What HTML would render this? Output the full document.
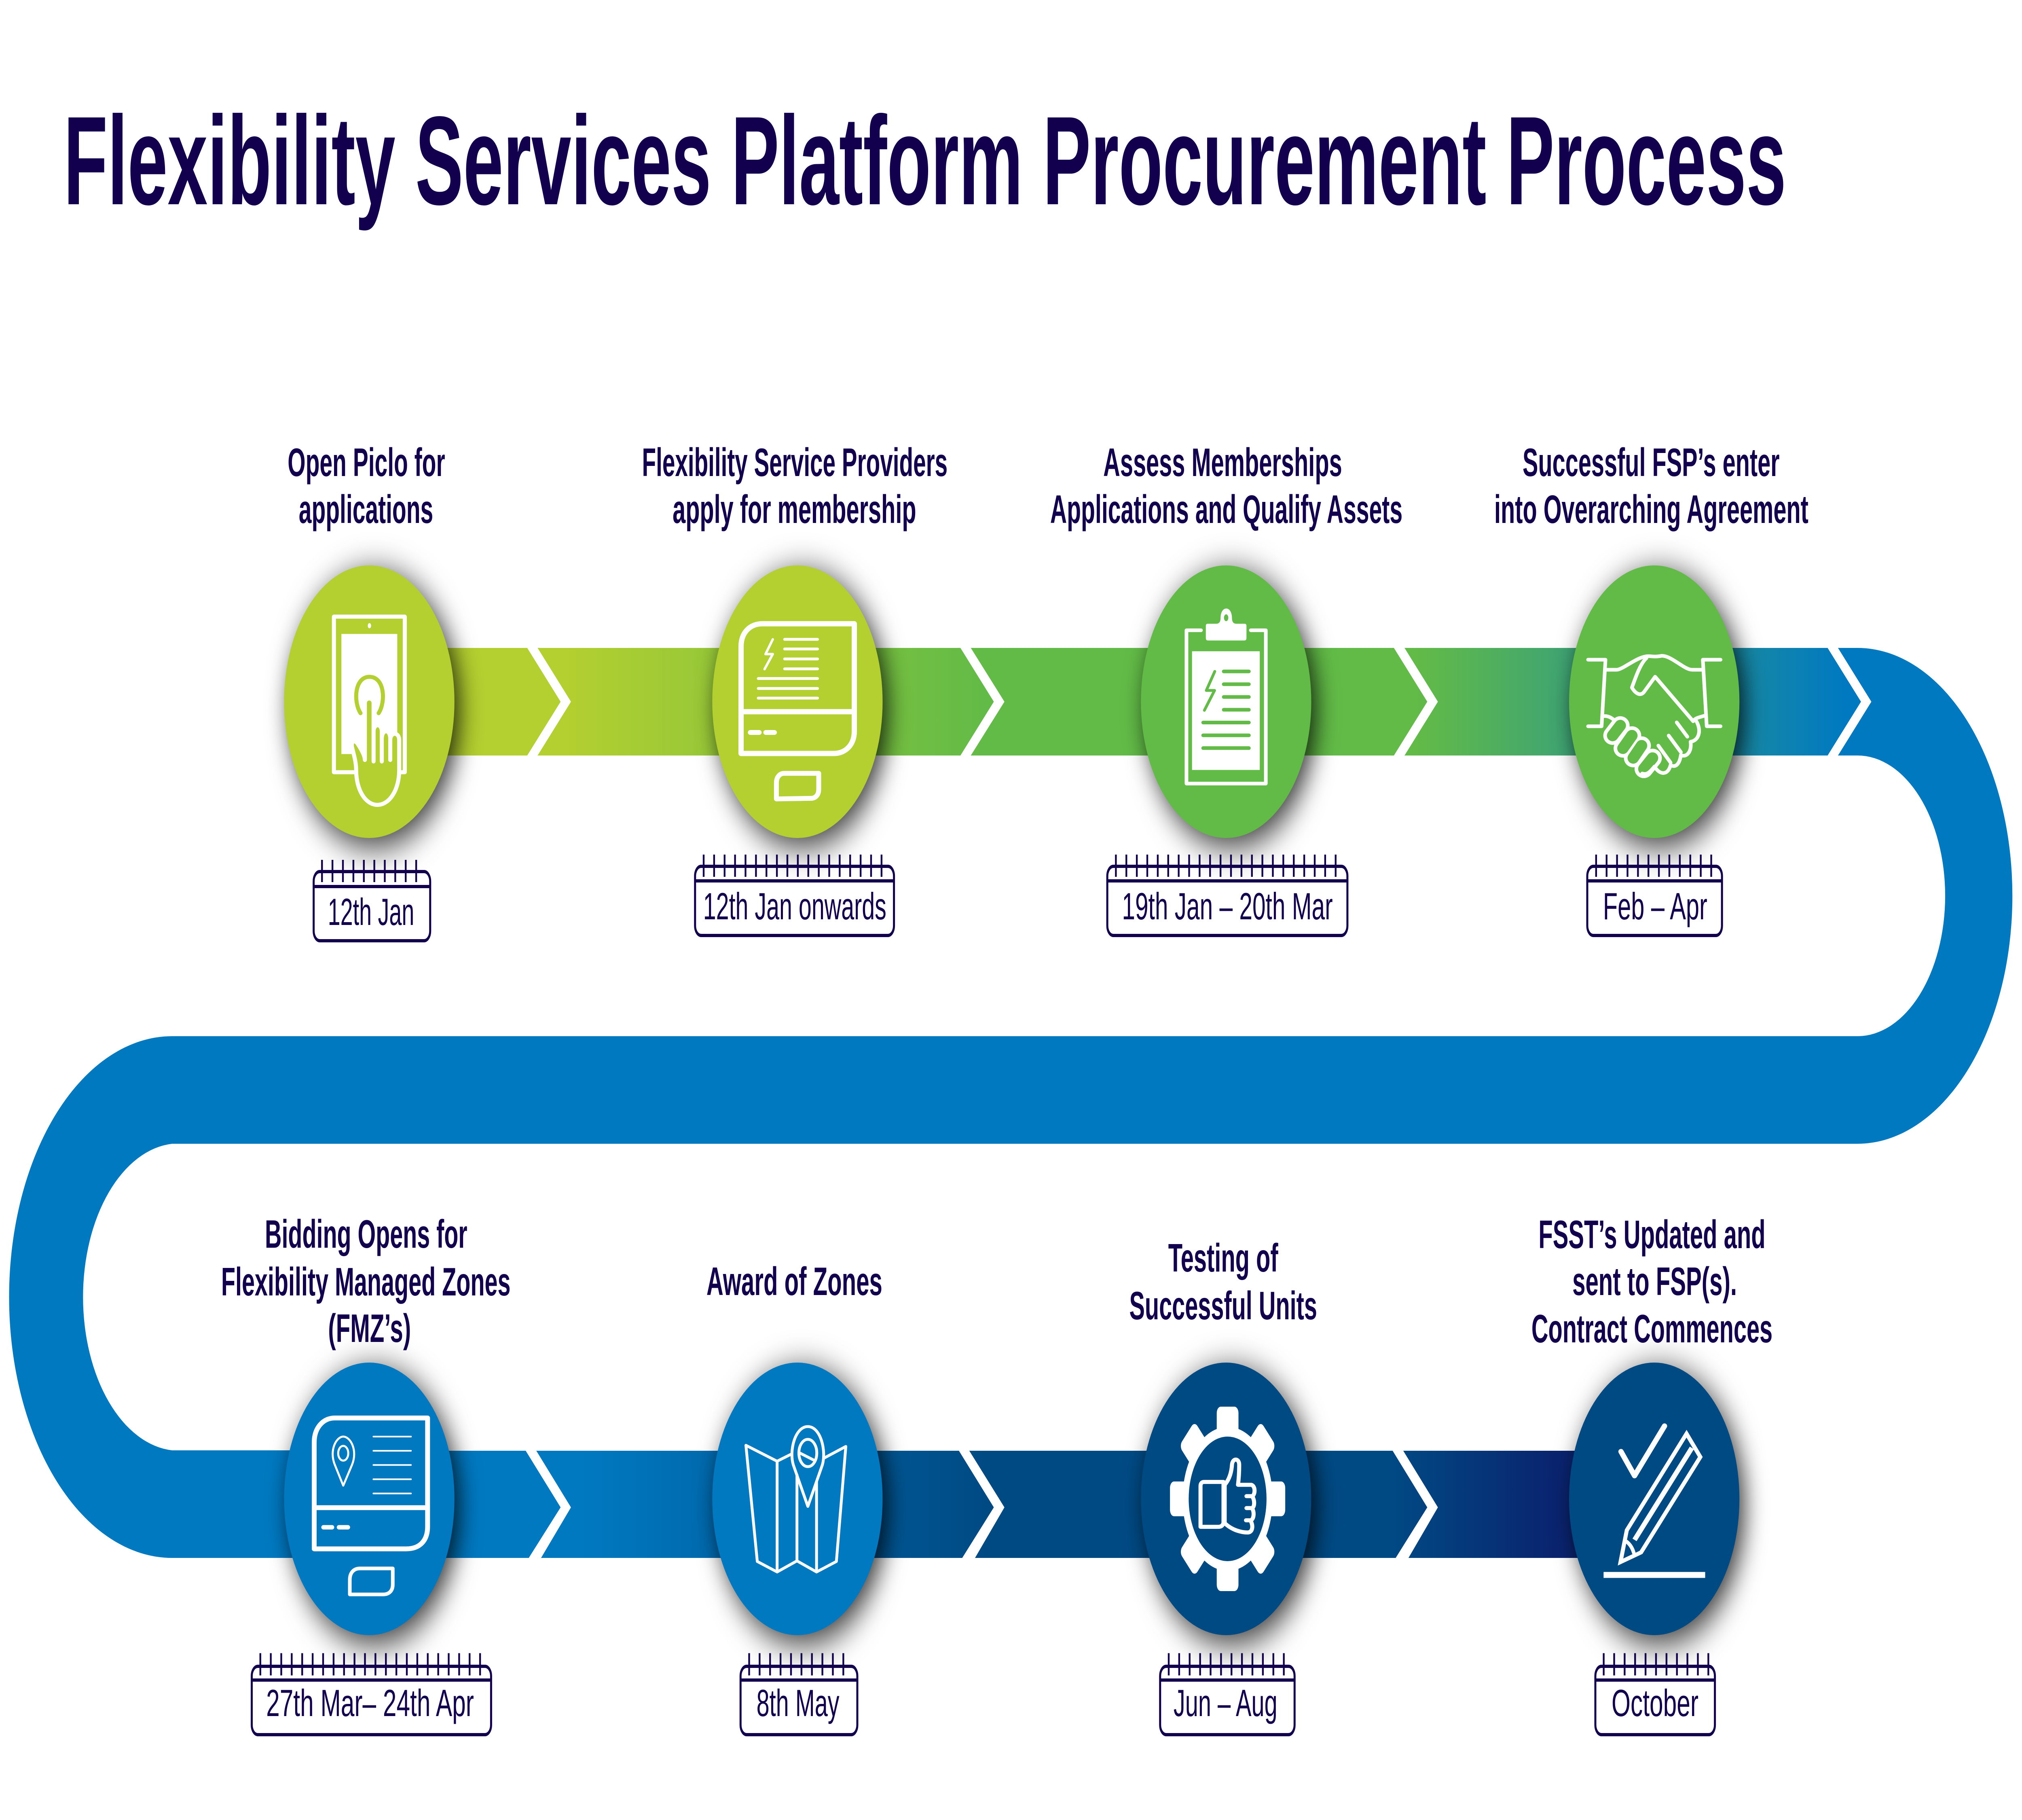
<!DOCTYPE html>
<html lang="en">
<head>
<meta charset="utf-8">
<title>Flexibility Services Platform Procurement Process</title>
<style>
html,body{margin:0;padding:0;background:#fff;width:100%;height:100%;overflow:hidden}
svg{display:block;width:100vw;height:100vh}
text{font-family:"Liberation Sans",sans-serif;fill:#12004f}
.t{font-weight:700;font-size:98px}
.d{font-size:94px}
.c{filter:drop-shadow(20px 20px 44px rgba(0,0,0,.8))}
.i{fill:none;stroke:#fff;stroke-linecap:round;stroke-linejoin:round}
.i *{vector-effect:non-scaling-stroke}
.cal{fill:none;stroke:#12004f;stroke-width:8}
.tk{stroke:#12004f;stroke-width:55;stroke-dasharray:7 34.4}
</style>
</head>
<body>
<svg xmlns="http://www.w3.org/2000/svg" viewBox="0 0 8000 4500" preserveAspectRatio="none">
<defs>
<linearGradient id="g1" gradientUnits="userSpaceOnUse" x1="1461" y1="0" x2="7349" y2="0">
<stop offset="0" stop-color="#b3cf30"/>
<stop offset="0.1333" stop-color="#b3cf30"/>
<stop offset="0.4143" stop-color="#62bb47"/>
<stop offset="0.7030" stop-color="#62bb47"/>
<stop offset="0.9915" stop-color="#0079c1"/>
<stop offset="1" stop-color="#0079c1"/>
</linearGradient>
<linearGradient id="g2" gradientUnits="userSpaceOnUse" x1="1461" y1="0" x2="6545" y2="0">
<stop offset="0" stop-color="#0079c1"/>
<stop offset="0.165" stop-color="#0079c1"/>
<stop offset="0.48" stop-color="#004a84"/>
<stop offset="0.794" stop-color="#004a84"/>
<stop offset="0.922" stop-color="#0a2470"/>
<stop offset="1" stop-color="#0a2470"/>
</linearGradient>
</defs>

<!-- title -->
<text x="252" y="505" font-size="312" font-weight="700" textLength="6815" lengthAdjust="spacingAndGlyphs">Flexibility Services Platform Procurement Process</text>

<!-- ribbon -->
<rect x="1461" y="1602" width="5890" height="266" fill="url(#g1)"/>
<path fill="#0079c1" d="M7349,1602 A613,613 0 0 1 7349,2828 L681,2828 A380,380 0 0 0 681,3586 L1461,3586 L1461,3852 L681,3852 A645,645 0 0 1 681,2562 L7349,2562 A347,347 0 0 0 7349,1868 Z"/>
<rect x="1461" y="3587" width="5084" height="265" fill="url(#g2)"/>

<!-- chevrons -->
<g fill="#fff">
<polygon points="2081,1597 2122,1597 2259,1735 2122,1873 2081,1873 2218,1735"/>
<polygon points="3795,1597 3836,1597 3974,1735 3836,1873 3795,1873 3932,1735"/>
<polygon points="5510,1597 5552,1597 5689,1735 5552,1873 5510,1873 5647,1735"/>
<polygon points="7226,1597 7267,1597 7404,1735 7267,1873 7226,1873 7363,1735"/>
<polygon points="2075,3582 2117,3582 2259,3727 2136,3857 2087,3857 2218,3727"/>
<polygon points="3789,3582 3830,3582 3974,3727 3853,3857 3802,3857 3932,3727"/>
<polygon points="5505,3582 5547,3582 5689,3727 5568,3857 5517,3857 5647,3727"/>
</g>

<!-- circles -->
<g class="c"><circle cx="1461" cy="1735" r="337" fill="#b3cf30"/></g>
<g class="c"><circle cx="3155" cy="1735" r="337" fill="#b3cf30"/></g>
<g class="c"><circle cx="4851" cy="1735" r="337" fill="#62bb47"/></g>
<g class="c"><circle cx="6545" cy="1735" r="337" fill="#62bb47"/></g>
<g class="c"><circle cx="1461" cy="3706" r="337" fill="#0079c1"/></g>
<g class="c"><circle cx="3155" cy="3706" r="337" fill="#0079c1"/></g>
<g class="c"><circle cx="4851" cy="3706" r="337" fill="#004a84"/></g>
<g class="c"><circle cx="6545" cy="3706" r="337" fill="#004a84"/></g>

<!-- icon 1 tablet + hand -->
<g class="i" transform="translate(900,1300) scale(.957,.702)" stroke-width="10">
<rect x="440" y="320" width="293" height="548"/>
<ellipse cx="587" cy="352" rx="7" ry="9" fill="#fff" stroke="none"/>
<rect x="471" y="381" width="231" height="423" fill="#fff" stroke="none"/>
<path d="M550,660 C520,620 525,532 587,532 C650,532 655,620 625,660" stroke="#b3cf30"/>
<path fill="#b3cf30" d="M532,860 C532,830 520,800 515,780 C510,760 525,750 540,770 C555,790 568,810 568,825 L568,625 C568,603 604,603 604,625 L604,830 L604,725 C604,695 638,695 638,725 L638,830 L638,750 C638,715 673,715 673,750 L673,825 L673,755 C673,725 710,725 710,755 L710,860 C710,930 670,983 620,983 C570,983 532,930 532,860 Z"/>
</g>

<!-- icon 2 monitor -->
<g class="i" transform="translate(2600,1300) scale(.957,.702)">
<path stroke-width="13" d="M347,655 L347,425 C347,375 385,345 435,345 L815,345 L815,725 C815,770 780,802 730,802 L347,802 Z M347,655 L815,655"/>
<path stroke-width="7" d="M527,400 H663 M527,434 H663 M527,469 H663 M527,504 H663 M418,538 H663 M418,573 H663 M418,607 H663"/>
<path stroke-width="6" d="M478,400 L448,452 L478,452 L444,505"/>
<path stroke-width="12" d="M385,728 H422 M449,728 H485"/>
<path stroke-width="12" d="M493,962 L493,905 C493,885 507,872 525,872 L668,872 L668,928 C668,948 655,960 635,960 Z"/>
</g>

<!-- icon 3 clipboard -->
<g class="i" transform="translate(4300,1300) scale(.957,.702)">
<path stroke-width="9" d="M472,368 L412,368 L412,908 L740,908 L740,368 L678,368"/>
<path fill="#fff" stroke="none" d="M492,352 Q492,345 500,345 L535,345 Q553,345 553,325 C553,280 600,280 600,325 Q600,345 618,345 L652,345 Q660,345 660,352 L660,395 Q660,404 652,404 L500,404 Q492,404 492,395 Z"/>
<ellipse cx="576" cy="324" rx="9" ry="12" fill="#62bb47" stroke="none"/>
<rect x="435" y="442" width="280" height="418" fill="#fff" stroke="none"/>
<path stroke="#62bb47" stroke-width="9" d="M566,513 H670 M566,558 H670 M566,603 H670 M566,648 H670 M481,693 H670 M481,738 H670 M481,783 H670"/>
<path stroke="#62bb47" stroke-width="7" d="M529,513 L494,580 L528,580 L486,650"/>
</g>

<!-- icon 4 handshake -->
<g class="i" transform="translate(6000,1300) scale(1.2755,.957)" stroke-width="9">
<path d="M222,346 L276,346 L264,518 L222,518 M633,346 L578,346 L590,518 L633,518"/>
<path d="M278,372 L310,372 C330,372 370,340 405,337 C420,336 425,340 450,336 C480,335 520,372 545,372 L577,372"/>
<path d="M403,342 C385,355 370,390 358,418 C370,435 385,440 395,430 L430,390 L548,505 C555,495 570,495 585,490"/>
<path d="M268,492 C285,490 295,497 300,500"/>
<path stroke-width="46" d="M298,542 L322,516 M330,575 L358,542 M362,600 L388,568 M395,628 L422,600"/>
<path stroke="#62bb47" stroke-width="28" d="M298,542 L322,516 M330,575 L358,542 M362,600 L388,568 M395,628 L422,600"/>
<path d="M558,505 C575,530 565,555 540,558 C545,585 525,600 510,592 C505,620 490,625 478,618 C470,645 445,645 428,622 C415,635 405,645 390,640"/>
<path d="M497,508 L530,545 M472,542 L510,585 M440,568 L478,612"/>
</g>

<!-- icon 5 monitor + pin -->
<g class="i" transform="translate(0,2500) scale(1.531,1.212)">
<path stroke-width="12" d="M812,1013 L812,880 C812,850 835,830 865,830 L1105,830 L1105,1052 C1105,1080 1085,1097 1050,1097 L812,1097 Z M812,1013 L1105,1013"/>
<path stroke-width="4" d="M965,868 H1062 M965,897 H1062 M965,926 H1062 M965,955 H1062 M965,984 H1062"/>
<path stroke-width="5" d="M887,968 L865,925 C850,895 870,868 887,868 C905,868 925,895 910,925 Z"/>
<ellipse cx="887" cy="902" rx="13" ry="15" stroke-width="5"/>
<path stroke-width="11" d="M836,1053 H858 M876,1053 H899"/>
<path stroke-width="9" d="M904,1190 L904,1160 C904,1145 915,1137 930,1137 L1015,1137 L1015,1170 C1015,1183 1005,1190 990,1190 Z"/>
</g>

<!-- icon 6 map -->
<g class="i" transform="translate(2600,3250) scale(.957,.702)" stroke-width="7">
<path d="M552,493 L496,517 L367,461 L414,870 L496,907 L578,868 L659,907 L741,870 L780,465 L692,505"/>
<path d="M496,517 V907 M578,565 V868 M659,590 V907"/>
<path d="M623,676 L563,530 C545,480 570,395 623,395 C676,395 700,480 683,530 Z"/>
<ellipse cx="623" cy="488" rx="37" ry="48"/>
<path d="M590,488 L652,515"/>
</g>

<!-- icon 7 gear -->
<g>
<g fill="#fff">
<circle cx="4857" cy="3706" r="178"/>
<rect x="4814" y="3478" width="86" height="120" rx="16"/>
<rect x="4814" y="3478" width="86" height="120" rx="16" transform="rotate(45 4857 3706)"/>
<rect x="4814" y="3478" width="86" height="120" rx="16" transform="rotate(90 4857 3706)"/>
<rect x="4814" y="3478" width="86" height="120" rx="16" transform="rotate(135 4857 3706)"/>
<rect x="4814" y="3478" width="86" height="120" rx="16" transform="rotate(180 4857 3706)"/>
<rect x="4814" y="3478" width="86" height="120" rx="16" transform="rotate(225 4857 3706)"/>
<rect x="4814" y="3478" width="86" height="120" rx="16" transform="rotate(270 4857 3706)"/>
<rect x="4814" y="3478" width="86" height="120" rx="16" transform="rotate(315 4857 3706)"/>
</g>
<circle cx="4857" cy="3706" r="154" fill="#004a84"/>
</g>
<g class="i" transform="translate(4300,3250) scale(.957,.702)" stroke-width="10">
<path d="M470,748 L470,605 Q470,590 485,590 L565,590 L565,735 Q560,748 545,748 Z"/>
<path d="M570,600 C590,580 598,555 600,530 C602,505 630,505 630,530 C630,555 628,580 625,600 L680,600 C700,605 695,640 682,640 L660,640 M682,640 C695,650 695,680 682,682 L660,682 M682,682 C695,695 690,725 676,725 L658,725 M676,725 C690,745 685,768 665,768 C640,768 600,760 570,735 L570,600"/>
</g>

<!-- icon 8 pencil -->
<g class="i" transform="translate(6000,3250) scale(.957,.702)">
<path stroke-width="13" d="M432,483 L488,568 L612,393"/>
<rect x="360" y="907" width="420" height="21" fill="#fff" stroke="none"/>
<path stroke-width="10" stroke-linejoin="miter" d="M703,420 L760,502 L515,838 L430,872 L456,760 Z"/>
<path stroke-width="12" stroke-linecap="butt" d="M725,470 L488,794"/>
<path stroke-width="9" d="M455,800 C470,810 480,825 485,840"/>
</g>

<!-- labels -->
<text class="t" x="1138" y="1177" textLength="623" lengthAdjust="spacingAndGlyphs">Open Piclo for</text>
<text class="t" x="1182" y="1293" textLength="532" lengthAdjust="spacingAndGlyphs">applications</text>
<text class="t" x="2540" y="1177" textLength="1209" lengthAdjust="spacingAndGlyphs">Flexibility Service Providers</text>
<text class="t" x="2661" y="1293" textLength="964" lengthAdjust="spacingAndGlyphs">apply for membership</text>
<text class="t" x="4365" y="1177" textLength="945" lengthAdjust="spacingAndGlyphs">Assess Memberships</text>
<text class="t" x="4155" y="1293" textLength="1394" lengthAdjust="spacingAndGlyphs">Applications and Qualify Assets</text>
<text class="t" x="6024" y="1177" textLength="1017" lengthAdjust="spacingAndGlyphs">Successful FSP’s enter</text>
<text class="t" x="5912" y="1293" textLength="1243" lengthAdjust="spacingAndGlyphs">into Overarching Agreement</text>
<text class="t" x="1048" y="3085" textLength="801" lengthAdjust="spacingAndGlyphs">Bidding Opens for</text>
<text class="t" x="875" y="3203" textLength="1145" lengthAdjust="spacingAndGlyphs">Flexibility Managed Zones</text>
<text class="t" x="1298" y="3318" textLength="328" lengthAdjust="spacingAndGlyphs">(FMZ’s)</text>
<text class="t" x="2795" y="3202" textLength="696" lengthAdjust="spacingAndGlyphs">Award of Zones</text>
<text class="t" x="4622" y="3144" textLength="435" lengthAdjust="spacingAndGlyphs">Testing of</text>
<text class="t" x="4468" y="3262" textLength="743" lengthAdjust="spacingAndGlyphs">Successful Units</text>
<text class="t" x="6087" y="3086" textLength="898" lengthAdjust="spacingAndGlyphs">FSST’s Updated and</text>
<text class="t" x="6221" y="3202" textLength="651" lengthAdjust="spacingAndGlyphs">sent to FSP(s).</text>
<text class="t" x="6059" y="3319" textLength="954" lengthAdjust="spacingAndGlyphs">Contract Commences</text>

<!-- calendars -->
<g>
<rect class="cal" x="1241" y="2155" width="461" height="171" rx="24"/>
<path class="cal" d="M1241,2192 H1702"/>
<path class="tk" d="M1270.5,2153.5 H1650.5"/>
<text class="d" x="1297" y="2287" textLength="342" lengthAdjust="spacingAndGlyphs">12th Jan</text>

<rect class="cal" x="2750" y="2142" width="787" height="171" rx="24"/>
<path class="cal" d="M2750,2178 H3537"/>
<path class="tk" d="M2780.5,2140.5 H3491.5"/>
<text class="d" x="2782" y="2273" textLength="725" lengthAdjust="spacingAndGlyphs">12th Jan onwards</text>

<rect class="cal" x="4381" y="2142" width="950" height="171" rx="24"/>
<path class="cal" d="M4381,2178 H5331"/>
<path class="tk" d="M4411.5,2140.5 H5290.5"/>
<text class="d" x="4439" y="2273" textLength="834" lengthAdjust="spacingAndGlyphs">19th Jan – 20th Mar</text>

<rect class="cal" x="6280" y="2142" width="533" height="171" rx="24"/>
<path class="cal" d="M6280,2178 H6813"/>
<path class="tk" d="M6311.5,2140.5 H6775.5"/>
<text class="d" x="6342" y="2273" textLength="413" lengthAdjust="spacingAndGlyphs">Feb – Apr</text>

<rect class="cal" x="996" y="4120" width="947" height="169" rx="24"/>
<path class="cal" d="M996,4154 H1943"/>
<path class="tk" d="M1026.5,4115 H1907.5"/>
<text class="d" x="1053" y="4243" textLength="822" lengthAdjust="spacingAndGlyphs">27th Mar– 24th Apr</text>

<rect class="cal" x="2930" y="4120" width="462" height="169" rx="24"/>
<path class="cal" d="M2930,4154 H3392"/>
<path class="tk" d="M2960.5,4115 H3341.5"/>
<text class="d" x="2993" y="4243" textLength="328" lengthAdjust="spacingAndGlyphs">8th May</text>

<rect class="cal" x="4590" y="4120" width="532" height="169" rx="24"/>
<path class="cal" d="M4590,4154 H5122"/>
<path class="tk" d="M4620.5,4115 H5086.5"/>
<text class="d" x="4643" y="4243" textLength="411" lengthAdjust="spacingAndGlyphs">Jun – Aug</text>

<rect class="cal" x="6312" y="4120" width="473" height="169" rx="24"/>
<path class="cal" d="M6312,4154 H6785"/>
<path class="tk" d="M6341.5,4115 H6764.5"/>
<text class="d" x="6376" y="4243" textLength="344" lengthAdjust="spacingAndGlyphs">October</text>
</g>
</svg>
</body>
</html>
